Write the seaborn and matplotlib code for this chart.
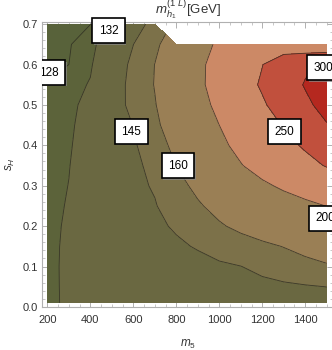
import numpy as np
import matplotlib
matplotlib.use("Agg")
import matplotlib.pyplot as plt
from matplotlib import patheffects
import seaborn as sns

# --- data (one-loop mass of h1 in GeV) ---
m5 = [200, 300, 400, 500, 600, 700, 800, 900, 1000, 1100, 1200, 1300, 1400, 1500]
s_h = [0.01, 0.05, 0.10, 0.15, 0.20, 0.25, 0.30, 0.35, 0.40, 0.45, 0.50, 0.55, 0.60, 0.65, 0.70]
nan = np.nan
mh1 = [
    [131.6, 132.3, 132.9, 133.4, 134.0, 134.6, 135.2, 135.7, 136.3, 136.9, 137.5, 138.1, 138.6, 139.2],
    [131.5, 132.4, 133.5, 134.6, 135.6, 136.7, 137.7, 138.8, 139.8, 140.9, 141.9, 143.0, 144.0, 145.1],
    [131.4, 132.5, 134.2, 135.7, 137.2, 138.8, 140.3, 141.8, 143.3, 144.8, 148.0, 151.3, 154.6, 158.0],
    [131.2, 132.6, 134.9, 137.0, 139.1, 141.2, 143.4, 145.8, 149.5, 153.1, 156.7, 160.5, 165.5, 170.5],
    [130.9, 132.6, 135.4, 137.9, 140.4, 143.0, 146.2, 152.2, 158.2, 163.7, 169.0, 174.4, 179.7, 185.0],
    [130.5, 132.4, 135.6, 138.5, 141.4, 144.3, 150.6, 158.1, 165.2, 172.1, 179.1, 186.1, 193.0, 200.5],
    [130.1, 132.1, 135.6, 139.0, 142.4, 146.0, 154.9, 163.8, 174.1, 184.5, 194.8, 204.8, 214.4, 224.0],
    [129.7, 131.8, 135.4, 139.2, 143.0, 147.5, 160.2, 172.1, 185.3, 198.5, 211.9, 225.4, 238.8, 252.3],
    [129.3, 131.4, 135.1, 139.4, 143.7, 151.0, 165.6, 179.5, 193.4, 208.2, 223.7, 239.2, 254.6, 272.0],
    [128.9, 131.0, 134.7, 139.9, 145.2, 156.4, 170.1, 185.1, 200.0, 217.2, 234.4, 252.1, 274.9, 297.7],
    [128.5, 130.6, 133.9, 140.2, 147.8, 159.0, 174.2, 189.8, 206.7, 225.9, 245.2, 267.7, 291.3, 314.9],
    [128.1, 130.1, 132.4, 139.6, 148.2, 160.7, 177.0, 193.4, 212.5, 233.3, 254.6, 277.6, 303.0, 323.0],
    [127.6, 128.0, 131.3, 138.4, 147.4, 160.2, 176.8, 193.4, 211.4, 230.3, 249.2, 272.0, 292.0, 310.0],
    [127.0, 127.7, 130.2, 136.6, 144.9, 156.4, 171.4, 187.9, 205.0, 222.0, 232.0, 228.0, 217.0, 210.0],
    [126.3, 127.1, 127.95, 133.4, 140.2, 148.6, nan, nan, nan, nan, nan, nan, nan, nan],
]
contour_levels = [128, 132, 145, 160, 200, 250, 300]
band_edges = [100, 128, 132, 145, 160, 200, 250, 300, 400]
band_colors = ["#58623a", "#5c633a", "#6a6841", "#7c7149", "#9a7f55",
               "#cc8966", "#c1503d", "#b5281f"]

# --- style ---
sns.set_style("ticks")
plt.rcParams["font.family"] = ["Liberation Sans", "DejaVu Sans"]
plt.rcParams["mathtext.fontset"] = "custom"
plt.rcParams["mathtext.rm"] = "Liberation Sans"
plt.rcParams["mathtext.it"] = "Liberation Sans:italic"

frame_col = "#b0b0b0"
text_col = "#333333"

fig = plt.figure(figsize=(3.32, 3.5), dpi=100)
ax = fig.add_axes([0.1265, 0.123, 0.877, 0.815])

X, Y = np.meshgrid(m5, s_h)
Z = np.ma.masked_invalid(np.array(mh1))

ax.contourf(X, Y, Z, levels=band_edges, colors=sns.color_palette(band_colors))
ax.contour(X, Y, Z, levels=contour_levels, colors="#2a2a20", linewidths=0.6, alpha=0.8)

# contour labels (framed boxes as in the original)
label_spots = [
    (128, 208, 0.580, True),
    (132, 485, 0.683, False),
    (145, 590, 0.434, False),
    (160, 808, 0.349, False),
    (250, 1303, 0.434, False),
    (300, 1485, 0.592, False),
    (200, 1495, 0.219, False),
]
for lev, xx, yy, clip in label_spots:
    t = ax.text(xx, yy, str(lev), ha="center", va="center", fontsize=8.5,
                color="black", zorder=6,
                bbox=dict(boxstyle="square,pad=0.55", fc="white", ec="black", lw=1.2))
    box = t.get_bbox_patch()
    box.set_path_effects([
        patheffects.SimplePatchShadow(offset=(1, -1), shadow_rgbFace="#888888", alpha=0.7),
        patheffects.Normal()])
    # the left-most label is cut by the frame, as in the original
    t.set_clip_path(ax.patch)
    t.set_clip_on(clip)
    box.set_clip_path(ax.patch)
    box.set_clip_on(clip)

ax.set_xlim(175, 1530)
ax.set_ylim(0, 0.706)
ax.set_xticks([200, 400, 600, 800, 1000, 1200, 1400])
ax.set_xticks(np.arange(200, 1501, 50), minor=True)
ax.set_yticks([0.0, 0.1, 0.2, 0.3, 0.4, 0.5, 0.6, 0.7])
ax.set_yticks(np.arange(0, 0.71, 0.02), minor=True)
ax.set_yticklabels(["0.0", "0.1", "0.2", "0.3", "0.4", "0.5", "0.6", "0.7"])

ax.tick_params(which="both", direction="in", top=True, right=True,
               color=frame_col, labelsize=8, labelcolor=text_col)
ax.tick_params(axis="x", which="major", pad=6)
ax.tick_params(axis="y", which="major", pad=3)
ax.tick_params(which="major", length=4, width=0.7)
ax.tick_params(which="minor", length=2, width=0.5)
for sp in ax.spines.values():
    sp.set_color(frame_col)
    sp.set_linewidth(0.8)

ax.set_title(r"$m_{h_1}^{(1\ L)}$[GeV]", fontsize=9.5, color=text_col, pad=1)
ax.set_xlabel(r"$m_5$", fontsize=8.5, color=text_col, labelpad=9)
ax.set_ylabel(r"$s_H$", fontsize=8.5, color=text_col, labelpad=4)

fig.savefig("out.png", dpi=100)
